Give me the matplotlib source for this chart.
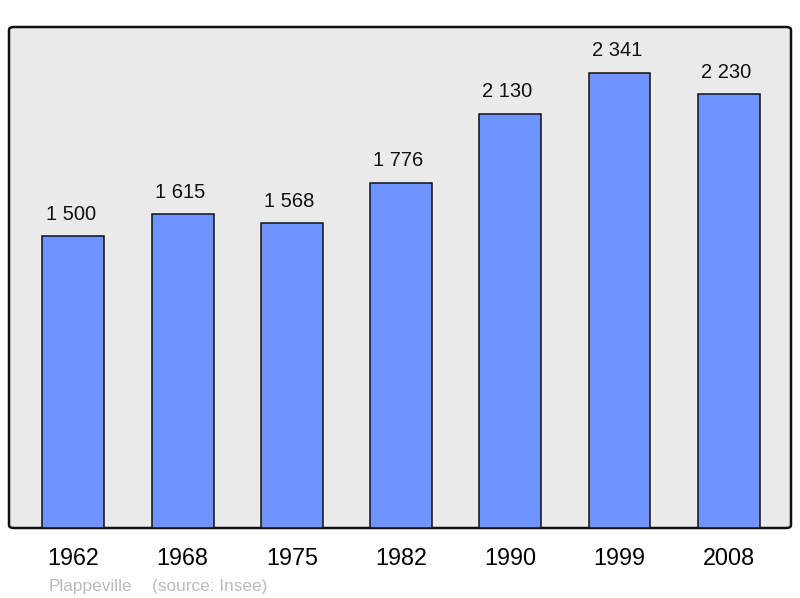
import matplotlib
matplotlib.use("Agg")
from matplotlib import pyplot as plt
from matplotlib.patches import FancyBboxPatch

years = ["1962", "1968", "1975", "1982", "1990", "1999", "2008"]
population = [1500, 1615, 1568, 1776, 2130, 2341, 2230]
value_labels = ["1 500", "1 615", "1 568", "1 776", "2 130", "2 341", "2 230"]

plt.rcParams['font.family'] = ['Liberation Sans', 'DejaVu Sans']

fig = plt.figure(figsize=(8, 5.98), dpi=100)
ax = fig.add_axes([9/800, 1 - 528/598, 782/800, 501/598])
ax.set_facecolor('none')

# rounded frame drawn behind the bars
frame = FancyBboxPatch((0, 0), 1, 1, boxstyle="round,pad=0,rounding_size=0.006",
                       transform=ax.transAxes, facecolor="#ebebeb",
                       edgecolor="#111111", linewidth=1.8, zorder=0, clip_on=False)
ax.add_patch(frame)
for s in ax.spines.values():
    s.set_visible(False)

x = list(range(len(years)))
bars = ax.bar(x, population, width=0.567, color="#7094ff", edgecolor="#111111",
              linewidth=1.1, zorder=2)
for xi, v, lab in zip(x, population, value_labels):
    ax.annotate(lab, (xi, v), xytext=(-2, 9), textcoords="offset points",
                ha="center", va="bottom", fontsize=14.5, color="#111111")

ax.set_xlim(-0.59, 6.57)
ax.set_ylim(0, 2577)
ax.set_yticks([])
ax.set_xticks(x)
ax.set_xticklabels(years, fontsize=16.8)
ax.tick_params(axis='x', length=0, pad=14)

fig.text(49/800, 1 - 591/598, "Plappeville", fontsize=12.4, color="#bbbbbb", va="baseline")
fig.text(152/800, 1 - 591/598, "(source: Insee)", fontsize=12.4, color="#bbbbbb", va="baseline")

fig.savefig("out.png", dpi=100)
